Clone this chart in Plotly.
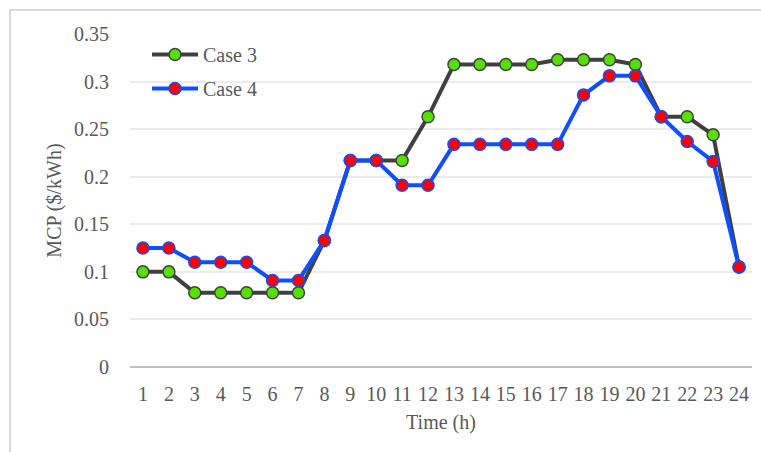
import plotly.graph_objects as go

# Hourly market clearing price, two cases
hours = [str(h) for h in range(1, 25)]
case3 = [0.100, 0.100, 0.078, 0.078, 0.078, 0.078, 0.078, 0.133, 0.217, 0.217,
         0.217, 0.263, 0.318, 0.318, 0.318, 0.318, 0.323, 0.323, 0.323, 0.318,
         0.263, 0.263, 0.244, 0.105]
case4 = [0.125, 0.125, 0.110, 0.110, 0.110, 0.091, 0.091, 0.133, 0.217, 0.217,
         0.191, 0.191, 0.234, 0.234, 0.234, 0.234, 0.234, 0.286, 0.306, 0.306,
         0.263, 0.237, 0.216, 0.105]
y_ticks = [0, 0.05, 0.1, 0.15, 0.2, 0.25, 0.3, 0.35]
y_tick_text = ["0", "0.05", "0.1", "0.15", "0.2", "0.25", "0.3", "0.35"]

FONT = "Liberation Serif, Times New Roman, serif"
GREY = "#595959"

fig = go.Figure()
fig.add_trace(go.Scatter(
    x=hours, y=case3, name="Case 3", mode="lines+markers", legendgroup="c3",
    line=dict(color="#404040", width=4),
    marker=dict(size=12, color="#55E000", line=dict(color="#404040", width=1.5)),
))
fig.add_trace(go.Scatter(
    x=hours, y=case4, name="Case 4", mode="lines+markers", legendgroup="c4",
    line=dict(color="#0F4FFF", width=4),
    marker=dict(size=12, color="#FF0000", line=dict(color="#0F4FFF", width=1.5)),
))

L, R, T, B = 130, 9, 34, 85
W, H = 761, 452
pw, ph = W - L - R, H - T - B

fig.update_layout(
    width=W, height=H,
    margin=dict(l=L, r=R, t=T, b=B),
    paper_bgcolor="white", plot_bgcolor="white",
    font=dict(family=FONT, size=20, color=GREY),
    showlegend=True,
    legend=dict(
        x=(147 - L) / pw, y=1 - (35 - T) / ph, xanchor="left", yanchor="top",
        bgcolor="rgba(0,0,0,0)", font=dict(size=20, color=GREY),
        traceorder="grouped", tracegroupgap=5, itemwidth=46,
    ),
    xaxis=dict(
        type="category", range=[-0.5, 23.5],
        tickmode="array", tickvals=hours, ticktext=hours,
        showgrid=False, zeroline=False,
        showline=False, ticks="", tickfont=dict(size=20, color=GREY),
        ticklabelstandoff=13,
        title=dict(text="Time (h)", font=dict(size=20, color=GREY), standoff=10),
    ),
    yaxis=dict(
        range=[0, 0.35], tickvals=y_ticks, ticktext=y_tick_text,
        showgrid=True, gridcolor="#EBEBEB", gridwidth=1.5,
        zeroline=True, zerolinecolor="#BFBFBF", zerolinewidth=2,
        showline=False, ticks="", tickfont=dict(size=20, color=GREY),
        ticklabelstandoff=20,
        title=dict(text="MCP ($/kWh)", font=dict(size=20, color=GREY), standoff=7),
    ),
    shapes=[dict(
        type="rect", xref="paper", yref="paper", layer="below",
        x0=(10 - L) / pw, x1=(W + 5 - L) / pw,
        y0=1 - (H + 5 - T) / ph, y1=1 - (10 - T) / ph,
        line=dict(color="#D9D9D9", width=2), fillcolor="rgba(0,0,0,0)",
    )],
)

fig.write_html("out.html")
